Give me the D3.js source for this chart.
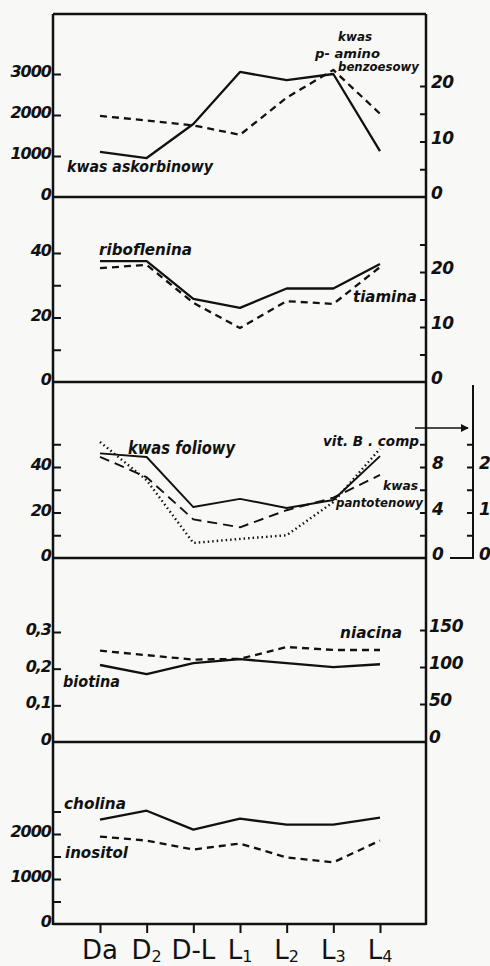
<!DOCTYPE html>
<html>
<head>
<meta charset="utf-8">
<script src="https://cdn.jsdelivr.net/npm/d3@7"></script>
<style>
  body { margin: 0; background: #f8f8f7; }
  svg text { font-family: "DejaVu Sans", sans-serif; fill: #111; }
  .lbl { font-style: italic; font-weight: bold; }
</style>
</head>
<body>
<div id="chart"></div>
<script>
// stages (x axis)
const stageMain = ["Da", "D", "D-L", "L", "L", "L", "L"];
const stageSub = ["", "2", "", "1", "2", "3", "4"];
const stages = stageMain.map((d, i) => d + stageSub[i]);

// panel 1
const kwasAskorbinowy = [1100, 950, 1780, 3050, 2850, 3000, 1120];
const kwasPAminobenzoesowy = [14.6, 13.8, 12.9, 11.2, 17.9, 22.9, 15.0];
// panel 2
const ryboflawina = [37.5, 37.5, 25.8, 23.0, 29.0, 29.0, 36.6];
const tiamina = [20.7, 21.3, 14.4, 9.8, 14.7, 14.2, 20.9];
// panel 3
const kwasFoliowy = [46, 44.4, 22.4, 26, 22, 25.5, 44.8];
const kwasPantotenowy = [8.9, 7.1, 3.4, 2.7, 4.2, 5.3, 7.3];
const vitBComp = [2.55, 1.71, 0.33, 0.42, 0.5, 1.23, 2.4];
// panel 4
const biotina = [0.21, 0.185, 0.215, 0.226, 0.215, 0.204, 0.212];
const niacina = [122, 116, 110, 111, 127, 123, 123];
// panel 5
const cholina = [2318, 2517, 2097, 2340, 2208, 2208, 2362];
const inositol = [1943, 1854, 1656, 1788, 1479, 1369, 1854];

// axis ticks / labels
const p1LeftTicks = [1000, 2000, 3000], p1LeftLabels = ["0", "1000", "2000", "3000"];
const p1RightTicks = [5, 10, 15, 20], p1RightLabels = ["0", "10", "20"];
const p2LeftTicks = [10, 20, 30, 40], p2LeftLabels = ["0", "20", "40"];
const p2RightTicks = [5, 10, 15, 20, 25], p2RightLabels = ["0", "10", "20"];
const p3LeftTicks = [10, 20, 30, 40, 50], p3LeftLabels = ["0", "20", "40"];
const p3RightTicks = [2, 4, 6, 8, 10], p3RightLabels = ["0", "4", "8"];
const p3FarTicks = [0.5, 1, 1.5, 2, 2.5], p3FarLabels = ["0", "1", "2"];
const p4LeftTicks = [0.1, 0.2, 0.3], p4LeftLabels = ["0", "0,1", "0,2", "0,3"];
const p4RightTicks = [50, 100, 150], p4RightLabels = ["0", "50", "100", "150"];
const p5LeftTicks = [500, 1000, 1500, 2000, 2500], p5LeftLabels = ["0", "1000", "2000"];

const width = 490, height = 966;
const L = 53, R = 426, TOP = 14;
const bottoms = [197, 382, 558, 742, 924];

const svg = d3.select("#chart").append("svg")
    .attr("width", width)
    .attr("height", height);

const x = d3.scalePoint().domain(stages).range([100, 380]);

// y scales
const y1L = d3.scaleLinear().domain([0, 3000]).range([197, 74]);
const y1R = d3.scaleLinear().domain([0, 20]).range([197, 86]);
const y2L = d3.scaleLinear().domain([0, 40]).range([382, 253]);
const y2R = d3.scaleLinear().domain([0, 20]).range([382, 272]);
const y3L = d3.scaleLinear().domain([0, 40]).range([558, 467]);
const y3R = d3.scaleLinear().domain([0, 8]).range([558, 467]);
const y3F = d3.scaleLinear().domain([0, 2]).range([558, 467]);
const y4L = d3.scaleLinear().domain([0, 0.3]).range([742, 632]);
const y4R = d3.scaleLinear().domain([0, 150]).range([741, 630]);
const y5L = d3.scaleLinear().domain([0, 2000]).range([924, 834]);

// frame
svg.append("line").attr("x1", L).attr("x2", L).attr("y1", TOP).attr("y2", 925)
    .attr("stroke", "#111").attr("stroke-width", 2.5);
svg.append("line").attr("x1", R).attr("x2", R).attr("y1", TOP).attr("y2", 925)
    .attr("stroke", "#111").attr("stroke-width", 2.5);
svg.append("line").attr("x1", L).attr("x2", R).attr("y1", TOP).attr("y2", TOP)
    .attr("stroke", "#111").attr("stroke-width", 2.5);
bottoms.forEach(b => {
    svg.append("line").attr("x1", L).attr("x2", R).attr("y1", b).attr("y2", b)
        .attr("stroke", "#111").attr("stroke-width", 2.5);
});

// left axis ticks (pointing inward) + labels
function leftAxis(scale, ticks, labels, labelVals) {
    svg.append("g")
        .attr("transform", `translate(${L},0)`)
        .call(d3.axisRight(scale).tickValues(ticks).tickSize(8).tickFormat(""))
        .call(g => g.select(".domain").remove())
        .call(g => g.selectAll("line").attr("stroke", "#111").attr("stroke-width", 2));
    svg.append("g").selectAll("text")
        .data(labelVals)
        .join("text")
        .attr("class", "lbl")
        .attr("x", L - 2)
        .attr("y", d => scale(d) + 3)
        .attr("text-anchor", "end")
        .attr("font-size", 16)
        .attr("letter-spacing", -1)
        .text((d, i) => labels[i]);
}

function rightAxis(scale, ticks, labels, labelVals, xPos, lx) {
    svg.append("g")
        .attr("transform", `translate(${xPos},0)`)
        .call(d3.axisLeft(scale).tickValues(ticks).tickSize(6).tickFormat(""))
        .call(g => g.select(".domain").remove())
        .call(g => g.selectAll("line").attr("stroke", "#111").attr("stroke-width", 2));
    if (!labels) return;
    svg.append("g").selectAll("text")
        .data(labelVals)
        .join("text")
        .attr("class", "lbl")
        .attr("x", lx)
        .attr("y", d => scale(d) + 2)
        .attr("font-size", 17)
        .attr("letter-spacing", -0.5)
        .text((d, i) => labels[i]);
}

leftAxis(y1L, p1LeftTicks, p1LeftLabels, [0, 1000, 2000, 3000]);
rightAxis(y1R, p1RightTicks, p1RightLabels, [0, 10, 20], R, 431);
leftAxis(y2L, p2LeftTicks, p2LeftLabels, [0, 20, 40]);
rightAxis(y2R, p2RightTicks, p2RightLabels, [0, 10, 20], R, 431);
leftAxis(y3L, p3LeftTicks, p3LeftLabels, [0, 20, 40]);
rightAxis(y3R, p3RightTicks, p3RightLabels, [0, 4, 8], R, 432);
leftAxis(y4L, p4LeftTicks, p4LeftLabels, [0, 0.1, 0.2, 0.3]);
rightAxis(y4R, p4RightTicks, p4RightLabels, [0, 50, 100, 150], R, 429);
leftAxis(y5L, p5LeftTicks, p5LeftLabels, [0, 1000, 2000]);

// third axis for vit. B comp
const FAR = 473;
svg.append("line").attr("x1", FAR).attr("x2", FAR).attr("y1", 385).attr("y2", 559)
    .attr("stroke", "#111").attr("stroke-width", 2);
svg.append("line").attr("x1", 450).attr("x2", FAR).attr("y1", 558).attr("y2", 558)
    .attr("stroke", "#111").attr("stroke-width", 2);
rightAxis(y3F, p3FarTicks, p3FarLabels, [0, 1, 2], FAR, 479);

// arrow
svg.append("defs").append("marker")
    .attr("id", "arr").attr("viewBox", "0 0 10 10")
    .attr("refX", 9).attr("refY", 5)
    .attr("markerWidth", 5).attr("markerHeight", 5)
    .attr("orient", "auto")
    .append("path").attr("d", "M0,0L10,5L0,10Z").attr("fill", "#111");
svg.append("line").attr("x1", 415).attr("x2", 468).attr("y1", 428).attr("y2", 428)
    .attr("stroke", "#111").attr("stroke-width", 1.6).attr("marker-end", "url(#arr)");

// series
function drawLine(values, scale, dash, sw) {
    const line = d3.line()
        .x((d, i) => x(stages[i]))
        .y(d => scale(d));
    svg.append("path")
        .datum(values)
        .attr("fill", "none")
        .attr("stroke", "#111")
        .attr("stroke-width", sw || 2.3)
        .attr("stroke-dasharray", dash)
        .attr("stroke-linejoin", "round")
        .attr("d", line);
}

drawLine(kwasAskorbinowy, y1L, null);
drawLine(kwasPAminobenzoesowy, y1R, "7,5");
drawLine(ryboflawina, y2L, null);
drawLine(tiamina, y2R, "7,5");
drawLine(kwasFoliowy, y3L, null, 1.9);
drawLine(kwasPantotenowy, y3R, "10,6", 1.9);
drawLine(vitBComp, y3F, "1.5,3", 2.4);
drawLine(biotina, y4L, null);
drawLine(niacina, y4R, "7,5");
drawLine(cholina, y5L, null);
drawLine(inositol, y5L, "7,5");

// annotations
const notes = [
    { t: "kwas askorbinowy", x: 67, y: 172, w: 146, s: 16 },
    { t: "kwas", x: 338, y: 41, w: 34, s: 12 },
    { t: "p- amino", x: 315, y: 58, w: 65, s: 13 },
    { t: "benzoesowy", x: 338, y: 71, w: 81, s: 12 },
    { t: "riboflenina", x: 99, y: 255, w: 93, s: 16 },
    { t: "tiamina", x: 353, y: 302, w: 64, s: 15 },
    { t: "kwas foliowy", x: 128, y: 454, w: 107, s: 17 },
    { t: "vit. B . comp", x: 323, y: 446, w: 96, s: 14 },
    { t: "kwas", x: 383, y: 490, w: 35, s: 13 },
    { t: "pantotenowy", x: 336, y: 507, w: 87, s: 13 },
    { t: "niacina", x: 340, y: 638, w: 62, s: 15 },
    { t: "biotina", x: 63, y: 687, w: 57, s: 15 },
    { t: "cholina", x: 64, y: 809, w: 62, s: 15 },
    { t: "inositol", x: 65, y: 858, w: 63, s: 15 }
];
svg.append("g").selectAll("text")
    .data(notes)
    .join("text")
    .attr("class", "lbl")
    .attr("x", d => d.x)
    .attr("y", d => d.y)
    .attr("font-size", d => d.s)
    .attr("textLength", d => d.w)
    .attr("lengthAdjust", "spacingAndGlyphs")
    .text(d => d.t);

// bottom axis
svg.append("g")
    .attr("transform", "translate(0,924)")
    .call(d3.axisBottom(x).tickSize(9).tickFormat(""))
    .call(g => g.select(".domain").remove())
    .call(g => g.selectAll("line").attr("stroke", "#111").attr("stroke-width", 2));

const xl = svg.append("g").selectAll("text")
    .data(stages)
    .join("text")
    .attr("x", d => x(d))
    .attr("y", 959)
    .attr("text-anchor", "middle")
    .attr("font-size", 26);
xl.append("tspan").text((d, i) => stageMain[i]);
xl.append("tspan")
    .attr("font-size", 16)
    .attr("dy", 3)
    .text((d, i) => stageSub[i]);
</script>
</body>
</html>
